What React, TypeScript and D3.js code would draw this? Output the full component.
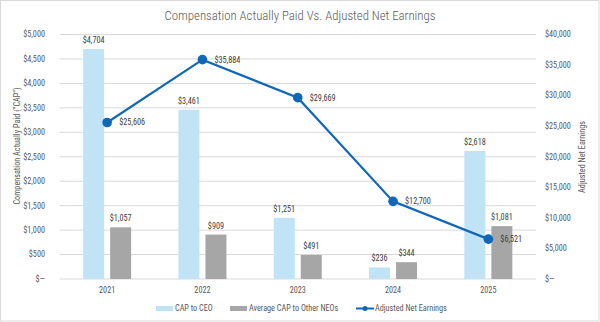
import React from "react";
import * as d3 from "d3";

const years = ["2021", "2022", "2023", "2024", "2025"];
const capCEO = [4704, 3461, 1251, 236, 2618];
const capNEO = [1057, 909, 491, 344, 1081];
const netEarnings = [25606, 35884, 29669, 12700, 6521];
const leftTicks = [0, 500, 1000, 1500, 2000, 2500, 3000, 3500, 4000, 4500, 5000];
const rightTicks = [0, 5000, 10000, 15000, 20000, 25000, 30000, 35000, 40000];

const W = 600, H = 322;
const FONT = "'Liberation Sans Narrow', 'Roboto Condensed', 'Liberation Sans', sans-serif";
const TXT = "#595959";
const BLUE_BAR = "#c0e3f5";
const GRAY_BAR = "#a6a6a6";
const LINE = "#1067b8";

const money = (v: number) => (v === 0 ? "$—" : "$" + d3.format(",")(v));

export default function App() {
  const x0 = 59.5, x1 = 536;
  const yTop = 34.5, yBot = 279;
  const x = d3.scaleBand<string>().domain(years).range([x0, x1]);
  const yL = d3.scaleLinear().domain([0, 5000]).range([yBot, yTop]);
  const yR = d3.scaleLinear().domain([0, 40000]).range([yBot, yTop]);
  const bw = 21, gap = 6;
  const cx = (d: string) => (x(d) as number) + x.bandwidth() / 2;
  const line = d3.line<number>().x((_, i) => cx(years[i])).y((v) => yR(v));
  const fs = 8.2;

  return (
    <svg width={W} height={H} style={{ position: "fixed", left: 0, top: 0, background: "#fff" }} fontFamily={FONT} fontWeight={400}>
      <rect x={0.5} y={0.5} width={W - 1.5} height={H - 1.5} fill="#fff" stroke="#d9d9d9" />
      <text x={300} y={19.5} textAnchor="middle" fontSize={12.8} fontWeight={300} fill={TXT}>
        Compensation Actually Paid Vs. Adjusted Net Earnings
      </text>
      {leftTicks.map((t) => (
        <g key={t}>
          <line x1={x0} x2={x1} y1={yL(t)} y2={yL(t)} stroke="#d9d9d9" strokeWidth={1} />
          <text x={45} y={yL(t)} dy="0.35em" textAnchor="end" fontSize={fs} fill={TXT}>{money(t)}</text>
        </g>
      ))}
      {rightTicks.map((t) => (
        <text key={t} x={545} y={yR(t)} dy="0.35em" textAnchor="start" fontSize={fs} fill={TXT}>{money(t)}</text>
      ))}
      <text transform={`translate(20,146) rotate(-90)`} textAnchor="middle" fontSize={fs} fill={TXT}>
        Compensation Actually Paid ("CAP")
      </text>
      <text transform={`translate(585,157) rotate(-90)`} textAnchor="middle" fontSize={fs} fill={TXT}>
        Adjusted Net Earnings
      </text>
      {years.map((yr, i) => {
        const c = cx(yr);
        return (
          <g key={yr}>
            <rect x={c - gap / 2 - bw} y={yL(capCEO[i])} width={bw} height={yBot - yL(capCEO[i])} fill={BLUE_BAR} />
            <rect x={c + gap / 2} y={yL(capNEO[i])} width={bw} height={yBot - yL(capNEO[i])} fill={GRAY_BAR} />
            <text x={c - gap / 2 - bw / 2} y={yL(capCEO[i]) - 6} textAnchor="middle" fontSize={fs} fill="#404040">{money(capCEO[i])}</text>
            <text x={c + gap / 2 + bw / 2} y={yL(capNEO[i]) - 6} textAnchor="middle" fontSize={fs} fill="#404040">{money(capNEO[i])}</text>
            <text x={c} y={290.5} dy="0.35em" textAnchor="middle" fontSize={fs} fill={TXT}>{yr}</text>
          </g>
        );
      })}
      <path d={line(netEarnings) || ""} fill="none" stroke={LINE} strokeWidth={2.2} />
      {netEarnings.map((v, i) => (
        <g key={i}>
          <circle cx={cx(years[i])} cy={yR(v)} r={4.8} fill={LINE} />
          <text x={cx(years[i]) + 12} y={yR(v)} dy="0.35em" fontSize={fs} fill="#404040">{money(v)}</text>
        </g>
      ))}
      <g fontSize={fs} fill={TXT}>
        <rect x={156} y={306} width={17} height={5} fill={BLUE_BAR} />
        <text x={175} y={308.5} dy="0.35em" fill={TXT}>CAP to CEO</text>
        <rect x={230} y={306} width={17} height={5} fill={GRAY_BAR} />
        <text x={249} y={308.5} dy="0.35em" fill={TXT}>Average CAP to Other NEOs</text>
        <line x1={356} x2={374} y1={308.5} y2={308.5} stroke={LINE} strokeWidth={2} />
        <circle cx={365} cy={308.5} r={2.5} fill={LINE} />
        <text x={375} y={308.5} dy="0.35em" fill={TXT}>Adjusted Net Earnings</text>
      </g>
    </svg>
  );
}
